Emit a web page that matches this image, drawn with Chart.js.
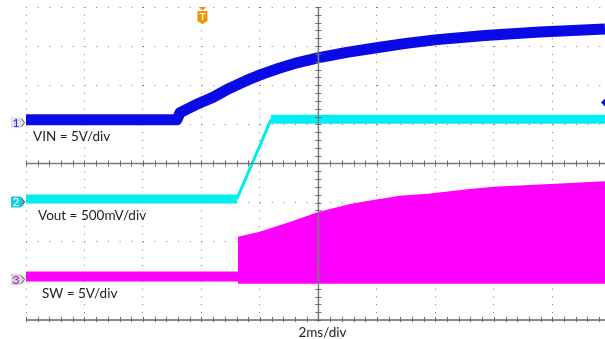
<!DOCTYPE html>
<html>
<head>
<meta charset="utf-8">
<script src="https://cdn.jsdelivr.net/npm/chart.js@4.4.0/dist/chart.umd.min.js"></script>
<style>
html, body { margin: 0; padding: 0; background: #fff; }
#wrap { position: relative; width: 605px; height: 339px; }
</style>
</head>
<body>
<div id="wrap"><canvas id="scope"></canvas></div>
<script>
// time in ms (2ms/div), level in divisions (0 = screen centre)
var vinTime = [0, 5.16, 5.27, 5.8, 6.39, 6.95, 7.56, 8.1, 8.68, 9.3, 9.98, 10.97, 12.10, 13.0, 13.98, 15.69, 17.57, 19.8];
var vinLevel = [1.12, 1.12, 1.30, 1.50, 1.69, 1.92, 2.13, 2.29, 2.44, 2.58, 2.70, 2.84, 2.97, 3.07, 3.16, 3.27, 3.36, 3.44];
var voutTime = [0, 7.21, 8.38, 19.8];
var voutLevel = [-0.91, -0.91, 1.13, 1.13];
var swTime = [0, 7.25];
var swLevel = [-2.89, -2.89];
var burstTime = [7.25, 8.0, 9.03, 9.98, 11.08, 11.93, 12.79, 13.81, 15.18, 16.0, 17.91, 18.94, 19.8];
var burstTop = [-1.90, -1.77, -1.52, -1.27, -1.06, -0.95, -0.85, -0.79, -0.68, -0.62, -0.55, -0.51, -0.48];
var burstBottom = [-3.05, -3.05, -3.05, -3.05, -3.05, -3.05, -3.05, -3.05, -3.05, -3.05, -3.05, -3.05, -3.05];
var channelNames = ['1', '2', '3'];
var channelLabels = ['VIN = 5V/div', 'Vout = 500mV/div', 'SW = 5V/div'];
var channelZero = [1.12, -0.91, -2.89];
var timeLabel = '2ms/div';
var triggerTime = 6.0;
var triggerLevel = 1.56;

function pts(t, v) {
	return t.map(function (x, i) { return {x: x, y: v[i]}; });
}

//채널 마커 색
var markerStyle = [
	{bg: '#e2e2f6', fg: '#2020d0'},
	{bg: '#10d0d8', fg: '#ffffff'},
	{bg: '#d9cfdc', fg: '#9a1aa8'}
];

var scopeDecor = {
	id: 'scopeDecor',
	afterDraw: function (chart) {
		var ctx = chart.ctx;
		var xs = chart.scales.x, ys = chart.scales.y;
		var area = chart.chartArea;
		var x0 = xs.getPixelForValue(10), y0 = ys.getPixelForValue(0);
		var yb = ys.getPixelForValue(-4);
		var v;
		ctx.save();
		// centre cross + bottom line
		ctx.strokeStyle = '#7c7c7c';
		ctx.lineWidth = 1.5;
		ctx.beginPath();
		ctx.moveTo(area.left, y0); ctx.lineTo(area.right, y0);
		ctx.moveTo(x0, area.top); ctx.lineTo(x0, area.bottom);
		ctx.stroke();
		ctx.strokeStyle = '#666';
		ctx.beginPath();
		ctx.moveTo(area.left, yb); ctx.lineTo(area.right, yb);
		ctx.stroke();
		// minor ticks
		ctx.lineWidth = 1;
		ctx.strokeStyle = '#6a6a6a';
		ctx.beginPath();
		for (v = 0; v <= 19.8; v += 0.4) {
			var px = Math.round(xs.getPixelForValue(v)) + 0.5;
			ctx.moveTo(px, y0 - 3); ctx.lineTo(px, y0 + 3);
			ctx.moveTo(px, yb - 3); ctx.lineTo(px, yb + 2);
		}
		for (v = -4; v <= 4.001; v += 0.2) {
			var py = Math.round(ys.getPixelForValue(v)) + 0.5;
			ctx.moveTo(x0 - 3, py); ctx.lineTo(x0 + 3, py);
		}
		ctx.stroke();

		// texts
		ctx.fillStyle = '#222';
		ctx.font = '13.5px Lato';
		ctx.textAlign = 'left';
		ctx.textBaseline = 'alphabetic';
		var textX = [33, 38, 42];
		channelLabels.forEach(function (s, i) {
			ctx.fillText(s, textX[i], ys.getPixelForValue(channelZero[i]) + 21);
		});
		ctx.fillText(timeLabel, x0 - 20, 337);

		// channel markers
		channelNames.forEach(function (s, i) {
			var cy = ys.getPixelForValue(channelZero[i]) + 3;
			var st = markerStyle[i];
			ctx.fillStyle = st.bg;
			ctx.beginPath();
			ctx.moveTo(11, cy - 5.5); ctx.lineTo(21, cy - 5.5); ctx.lineTo(25, cy);
			ctx.lineTo(21, cy + 5.5); ctx.lineTo(11, cy + 5.5); ctx.closePath();
			ctx.fill();
			ctx.strokeStyle = '#555';
			ctx.beginPath();
			ctx.moveTo(21.5, cy - 4); ctx.lineTo(24.5, cy); ctx.lineTo(21.5, cy + 4);
			ctx.stroke();
			ctx.fillStyle = st.fg;
			ctx.font = '12px Lato';
			ctx.textAlign = 'center';
			ctx.textBaseline = 'middle';
			ctx.fillText(s, 16, cy + 0.5);
		});

		// trigger marker
		var tx = xs.getPixelForValue(triggerTime) + 1;
		ctx.fillStyle = '#f39200';
		ctx.beginPath();
		ctx.moveTo(tx - 4, 7); ctx.lineTo(tx + 4, 7); ctx.lineTo(tx, 10.5); ctx.closePath();
		ctx.fill();
		ctx.beginPath();
		ctx.moveTo(tx - 5, 11); ctx.lineTo(tx + 5, 11); ctx.lineTo(tx + 5, 21);
		ctx.lineTo(tx, 24); ctx.lineTo(tx - 5, 21); ctx.closePath();
		ctx.fill();
		ctx.fillStyle = '#fff';
		ctx.font = 'bold 10px Lato';
		ctx.textAlign = 'center';
		ctx.textBaseline = 'middle';
		ctx.fillText('T', tx, 16.5);

		// trigger level marker
		var ty = ys.getPixelForValue(triggerLevel);
		ctx.fillStyle = '#0a0ae6';
		ctx.beginPath();
		ctx.moveTo(area.right, ty - 4); ctx.lineTo(area.right - 4, ty); ctx.lineTo(area.right, ty + 4);
		ctx.closePath();
		ctx.fill();
		ctx.restore();
	}
};

new Chart(document.getElementById('scope'), {
	type: 'line',
	data: {
		datasets: [
			{
				label: 'VIN',
				data: pts(vinTime, vinLevel),
				borderColor: '#0a0ae6',
				borderWidth: 11,
				borderJoinStyle: 'round',
				tension: 0,
				pointRadius: 0
			},
			{
				label: 'Vout',
				data: pts(voutTime, voutLevel),
				borderColor: '#00eef0',
				borderWidth: 9,
				pointRadius: 0,
				segment: {
					borderWidth: function (c) { return c.p0.parsed.y === c.p1.parsed.y ? 9 : 3; }
				}
			},
			{
				label: 'SW',
				data: pts(swTime, swLevel),
				borderColor: '#ff00ff',
				borderWidth: 10,
				pointRadius: 0
			},
			{
				label: 'SW top',
				data: pts(burstTime, burstTop),
				borderColor: '#ff00ff',
				backgroundColor: '#ff00ff',
				borderWidth: 2,
				pointRadius: 0,
				fill: '+1'
			},
			{
				label: 'SW bottom',
				data: pts(burstTime, burstBottom),
				borderColor: '#ff00ff',
				borderWidth: 2,
				pointRadius: 0
			}
		]
	},
	options: {
		responsive: true,
		maintainAspectRatio: false,
		animation: false,
		layout: {padding: {left: 26, right: 0, top: 7, bottom: 19}},
		plugins: {legend: {display: false}, tooltip: {enabled: false}},
		scales: {
			x: {
				type: 'linear',
				min: 0,
				max: 19.8,
				z: 1,
				ticks: {display: false, stepSize: 2, includeBounds: false},
				grid: {color: '#7a7a7a', lineWidth: 1, drawTicks: false},
				border: {display: false, dash: [1, 6.82]}
			},
			y: {
				type: 'linear',
				min: -4,
				max: 4,
				z: 1,
				ticks: {display: false, stepSize: 1},
				grid: {color: '#7a7a7a', lineWidth: 1, drawTicks: false},
				border: {display: false, dash: [1, 10.7]}
			}
		}
	},
	plugins: [scopeDecor]
});
</script>
</body>
</html>
